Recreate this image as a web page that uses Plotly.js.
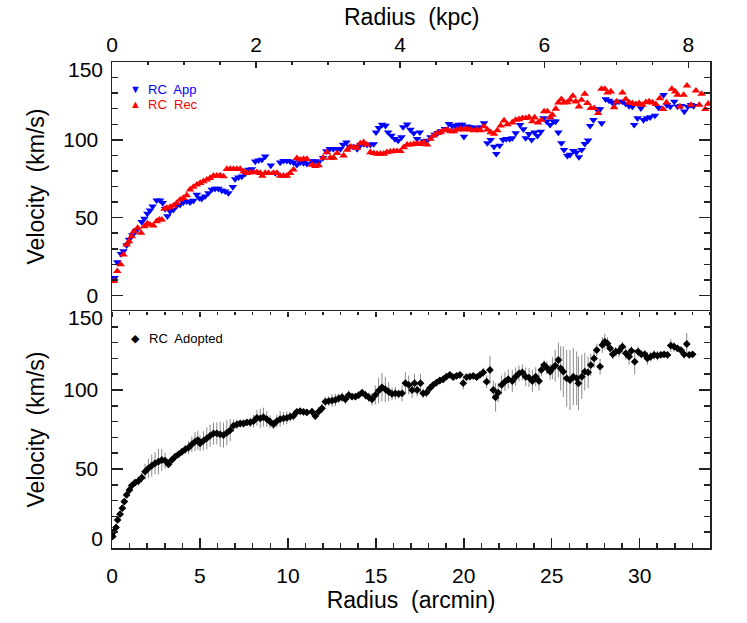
<!DOCTYPE html>
<html><head><meta charset="utf-8">
<script src="https://cdn.plot.ly/plotly-3.0.1.min.js"></script>
<style>html,body{margin:0;padding:0;background:#fff}#chart{width:747px;height:623px}</style>
</head><body><div id="chart"></div>
<script>
// RC App (approaching side) - radius in arcmin, velocity km/s
const appR = [0.15,0.30,0.51,0.65,0.83,0.97,1.16,1.37,1.69,1.84,2.01,2.16,2.31,2.54,2.73,2.88,3.02,3.15,3.30,3.49,3.68,3.87,4.06,4.25,4.44,4.63,4.82,4.97,5.10,5.29,5.48,5.67,5.86,6.05,6.24,6.43,6.62,6.87,7.00,7.19,7.38,7.57,7.76,7.95,8.14,8.33,8.52,8.71,9.03,9.28,9.56,9.75,9.94,10.13,10.32,10.51,10.70,10.89,11.08,
11.37,11.56,11.75,12.00,12.19,12.38,12.58,12.80,12.99,13.14,13.33,13.52,13.71,13.94,14.12,14.31,14.50,14.69,14.88,15.01,15.17,15.36,15.55,15.70,15.89,16.08,16.27,16.46,16.55,16.78,16.97,17.16,17.35,17.50,17.73,17.92,18.11,18.34,18.53,18.72,18.93,19.15,19.34,19.53,19.72,19.91,20.01,20.19,20.38,20.57,20.76,20.95,21.15,21.34,21.53,21.72,21.85,22.04,22.23,22.42,22.61,
22.76,22.95,23.20,23.39,23.52,23.71,23.86,24.03,24.19,24.38,24.53,24.72,24.91,25.10,25.23,25.38,25.55,25.70,25.89,26.04,26.23,26.40,26.55,26.70,26.88,27.07,27.18,27.37,27.56,27.75,27.84,28.07,28.26,28.45,28.64,28.83,29.02,29.21,29.40,29.59,29.69,29.88,30.07,30.22,30.41,30.60,30.87,31.07,31.36,31.55,31.74,31.97,32.16,32.35,32.54,32.73,32.92,33.07];
const appV = [11.3,21.4,26.7,28.4,32.3,35.9,38.7,41.5,47.2,49.4,52.6,54.7,57.3,61.1,61.1,59.4,55.6,50.9,54.1,55.1,57.7,58.3,59.8,60.5,59.8,60.9,64.7,62.6,62.2,63.7,65.8,68.0,68.6,68.6,67.5,66.9,65.8,69.7,74.8,75.9,76.5,78.2,80.8,81.2,86.1,86.8,87.2,89.3,83.5,78.6,85.5,86.5,86.5,86.1,85.5,84.0,85.5,85.1,84.6,
86.3,86.3,85.6,88.4,92.7,94.1,94.1,94.1,94.1,96.9,98.4,95.6,95.6,94.1,96.9,97.3,96.9,96.9,97.3,104.8,107.6,109.7,109.1,104.8,102.7,100.6,99.5,101.7,108.2,109.9,106.5,104.3,100.6,104.8,99.1,99.5,101.7,103.4,104.4,105.5,107.0,110.3,109.1,109.1,109.7,109.7,102.0,108.6,108.2,107.8,107.1,108.2,110.7,97.9,100.0,95.6,91.0,96.3,100.0,100.6,100.6,
101.1,104.3,109.6,106.8,101.1,103.8,100.0,104.7,102.6,105.3,113.9,111.8,109.6,111.8,111.8,104.7,97.9,93.6,89.7,90.4,92.9,91.9,88.9,93.6,97.4,99.6,109.0,112.8,119.7,119.7,110.7,126.1,125.2,123.9,124.1,124.6,124.6,123.1,121.8,121.4,109.6,113.9,120.3,112.8,113.9,114.5,115.6,120.7,128.8,122.4,121.4,124.6,121.4,121.8,118.2,121.4,122.4,121.8];

// RC Rec (receding side)
const recR = [0.11,0.30,0.49,0.65,0.83,0.97,1.12,1.25,1.46,1.65,1.84,2.01,2.16,2.35,2.54,2.69,2.83,2.98,3.11,3.30,3.49,3.68,3.87,4.06,4.25,4.44,4.63,4.82,5.01,5.20,5.39,5.58,5.77,5.96,6.15,6.34,6.53,6.72,6.91,7.10,7.29,7.48,7.67,7.86,8.05,8.24,8.43,8.55,8.71,8.90,9.18,9.37,9.56,9.75,9.94,10.13,10.32,10.51,10.70,10.89,11.08,
11.37,11.56,11.75,12.00,12.22,12.41,12.60,12.80,13.17,13.37,13.56,13.75,13.94,14.12,14.31,14.50,14.69,14.88,15.07,15.26,15.45,15.63,15.82,16.02,16.21,16.40,16.59,16.78,16.97,17.16,17.35,17.54,17.73,17.92,18.11,18.30,18.49,18.68,18.87,19.06,19.25,19.44,19.63,19.82,20.01,20.19,20.38,20.57,20.76,20.95,21.15,21.34,21.53,21.72,21.91,22.10,22.29,22.48,
22.76,22.95,23.14,23.33,23.52,23.71,23.90,24.03,24.23,24.42,24.57,24.76,24.91,25.04,25.23,25.38,25.55,25.70,25.89,26.04,26.20,26.37,26.55,26.69,26.88,27.03,27.22,27.41,27.64,27.83,28.02,28.17,28.36,28.55,28.70,29.02,29.21,29.40,29.59,29.78,29.97,30.16,30.35,30.54,30.73,30.92,31.15,31.34,31.53,31.83,32.02,32.16,32.29,32.50,32.69,32.92,33.20,33.39,33.52,33.73,33.90];
const recV = [9.2,15.6,19.9,26.3,32.7,34.8,38.0,41.2,43.4,40.2,44.4,46.2,45.5,44.9,47.6,48.7,48.7,55.6,56.2,56.8,57.7,59.4,61.5,62.6,64.3,68.0,69.7,71.2,72.2,73.3,74.4,75.4,76.9,76.9,77.1,76.5,81.2,81.2,81.2,81.2,81.2,79.7,78.6,79.0,79.0,79.2,78.6,76.9,78.6,78.6,78.6,78.6,76.9,76.9,76.9,78.6,80.8,88.2,87.2,87.6,87.6,
83.9,83.1,83.5,88.4,92.0,88.4,88.4,91.4,89.9,93.5,95.6,95.2,94.8,97.7,98.4,96.9,92.0,91.4,91.0,91.0,91.0,92.0,92.4,92.7,92.7,92.7,95.2,96.9,96.9,97.3,97.7,97.3,98.4,96.9,100.6,102.7,104.3,104.8,106.0,106.5,105.5,105.5,106.5,107.1,106.5,107.1,106.5,106.0,106.5,106.0,108.6,106.5,104.8,103.8,106.0,109.1,112.4,109.9,
111.1,112.8,113.2,113.9,113.9,114.5,111.8,114.3,111.1,112.8,118.2,118.2,114.5,116.0,119.9,123.9,126.1,123.9,124.1,125.6,128.2,124.6,121.4,125.6,129.5,123.5,120.3,120.3,117.1,132.7,132.7,130.3,131.0,120.9,124.6,130.3,126.1,123.9,123.5,122.9,123.5,122.4,124.1,124.6,123.9,122.9,126.7,119.7,123.9,132.7,131.0,128.8,121.4,128.8,134.8,122.4,131.6,122.4,129.5,119.7,123.1];

// RC Adopted with uncertainties
const adoR = [0.04,0.11,0.23,0.32,0.46,0.59,0.70,0.83,0.99,1.12,1.31,1.50,1.69,1.88,2.07,2.26,2.45,2.64,2.83,3.02,3.21,3.40,3.59,3.78,3.97,4.16,4.35,4.54,4.72,4.88,5.01,5.20,5.39,5.58,5.77,5.96,6.15,6.34,6.53,6.72,6.91,7.10,7.29,7.48,7.67,7.86,8.05,8.24,8.43,8.61,8.80,8.99,9.18,9.37,9.56,9.75,9.94,10.13,10.32,10.51,10.70,10.89,11.08,
11.37,11.56,11.75,11.94,12.13,12.32,12.51,12.70,12.89,13.08,13.27,13.46,13.65,13.84,14.03,14.22,14.41,14.60,14.78,14.97,15.16,15.35,15.54,15.73,15.92,16.11,16.30,16.49,16.68,16.87,17.06,17.20,17.35,17.54,17.69,17.88,18.07,18.26,18.45,18.64,18.83,19.02,19.21,19.40,19.59,19.78,19.97,20.16,20.35,20.54,20.73,20.92,21.11,21.30,21.49,21.68,21.81,21.96,22.15,22.34,22.53,
22.76,22.95,23.14,23.33,23.52,23.71,23.90,24.09,24.28,24.41,24.57,24.72,24.91,25.04,25.20,25.38,25.51,25.66,25.85,26.04,26.23,26.42,26.52,26.71,26.88,27.07,27.22,27.41,27.56,27.75,27.88,28.02,28.17,28.32,28.47,28.64,28.83,29.02,29.21,29.40,29.53,29.72,29.91,30.10,30.29,30.44,30.63,30.82,31.01,31.20,31.39,31.58,31.77,31.96,32.15,32.34,32.53,32.68,32.82,33.01];
const adoV = [7.3,10.4,13.0,17.8,21.4,25.2,29.4,33.6,36.7,39.5,41.4,42.4,44.5,48.3,50.4,52.1,53.6,54.6,55.7,55.3,52.9,55.7,57.8,59.3,60.9,62.4,63.5,65.6,67.3,68.3,66.2,67.9,69.4,71.1,72.5,72.5,71.9,71.5,72.9,74.6,77.4,78.2,78.8,78.8,79.5,79.5,80.3,82.4,82.0,82.8,81.6,79.9,78.2,80.3,81.6,82.0,82.4,83.1,83.7,86.2,86.6,86.2,85.8,
86.3,83.5,86.3,88.4,92.6,93.0,93.3,93.7,94.7,95.4,94.1,96.8,95.8,95.8,96.8,98.3,96.8,95.4,94.1,96.8,99.6,101.7,100.4,98.9,97.5,97.9,97.5,97.9,104.3,103.2,100.0,104.3,100.0,104.3,97.9,98.3,101.1,103.2,104.7,106.0,106.8,108.5,109.6,108.1,108.9,109.6,104.3,108.1,108.5,108.9,108.1,109.6,111.1,105.3,112.7,100.0,95.4,98.3,103.2,105.3,106.8,
105.7,108.4,110.5,111.2,108.4,107.8,105.7,108.4,105.7,112.7,115.8,114.1,111.6,113.7,115.4,119.0,113.7,111.6,107.4,106.3,108.4,107.4,104.2,108.4,111.6,111.2,115.8,120.0,125.3,114.8,128.5,130.6,129.5,126.4,122.6,124.3,124.7,127.4,123.2,121.1,124.7,117.9,124.3,122.6,122.6,120.0,121.1,122.2,121.7,122.2,122.6,122.2,128.1,127.4,126.4,125.3,122.6,129.1,122.2,122.6];
const adoE = [1,1,1,1,1,1,1,1,1.5,2,2,3,3,5,6,7,7,8,7,5,2,2,2,2,2,3,4,5,6,6,5,6,7,7,7,7,8,8,8,7,4,3,2,2,2,3,4,5,6,6,5,4,3,4,5,4,4,3,3,2,2,2,2,
2,2,3,3,3,3,4,4,3,3,3,3,2,2,2,2,3,3,4,6,8,9,8,6,4,4,3,5,7,6,5,6,4,6,3,3,2,2,2,2,2,2,2,2,2,2,4,2,2,2,2,2,3,4,9,6,9,6,6,6,6,
7,6,5,5,6,6,7,6,6,4,3,4,5,7,10,11,14,16,18,19,18,17,17,14,12,10,7,6,4,5,5,5,4,3,3,3,4,3,4,5,3,8,3,2,3,4,3,3,3,2,2,2,4,3,2,2,3,7,2,2];

const velTicks = [0, 50, 100, 150];
const kpcTicks = [0, 2, 4, 6, 8];
const arcminPerKpc = 4.096;
const xMaxArcmin = 34;

const axColor = '#222';
const FAM = 'Liberation Sans, Arial, sans-serif';
const tickFont = {family: FAM, size: 21, color: '#000'};
const titleFont = {family: FAM, size: 23, color: '#000'};

const traces = [
  {x: appR, y: appV, xaxis: 'x2', yaxis: 'y2', type: 'scatter', mode: 'markers', name: 'RC App',
   marker: {symbol: 'triangle-down', color: '#0000ff', size: 7.5}},
  {x: recR, y: recV, xaxis: 'x2', yaxis: 'y2', type: 'scatter', mode: 'markers', name: 'RC Rec',
   marker: {symbol: 'triangle-up', color: '#ff0000', size: 7.5}},
  {x: adoR, y: adoV, xaxis: 'x', yaxis: 'y', type: 'scatter', mode: 'markers', name: 'RC Adopted',
   error_y: {type: 'data', array: adoE, visible: true, color: '#8a8a8a', thickness: 1, width: 0},
   marker: {symbol: 'diamond', color: '#000', size: 6}},
  // empty traces so that the overlay axes (kpc scale, end labels) are drawn
  {x: [], y: [], xaxis: 'x3', yaxis: 'y2', type: 'scatter', mode: 'markers', hoverinfo: 'skip'},
  {x: [], y: [], xaxis: 'x', yaxis: 'y3', type: 'scatter', mode: 'markers', hoverinfo: 'skip'},
  {x: [], y: [], xaxis: 'x', yaxis: 'y4', type: 'scatter', mode: 'markers', hoverinfo: 'skip'},
  {x: [], y: [], xaxis: 'x2', yaxis: 'y5', type: 'scatter', mode: 'markers', hoverinfo: 'skip'}
];

const split = 237/486;
const common = {showgrid: false, zeroline: false, linecolor: axColor, linewidth: 1.5, tickcolor: axColor, tickwidth: 1.5};
const minorIn = (d, len) => ({dtick: d, ticks: 'inside', ticklen: len, tickcolor: axColor, tickwidth: 1.5});
const endLabel = (dom, rng, anchorX, overlay, val, shift) => Object.assign({}, common, {
  domain: dom, range: rng, anchor: anchorX, overlaying: overlay, side: 'left',
  showline: false, ticks: '', tickmode: 'array', tickvals: [val], ticktext: [String(val)],
  tickfont: tickFont, ticklabelstandoff: 8, ticklabelshift: shift
});

const layout = {
  width: 747, height: 623,
  margin: {l: 112, r: 37, t: 62, b: 75},
  paper_bgcolor: '#fff', plot_bgcolor: '#fff',
  showlegend: false,
  font: {family: FAM, color: '#000'},
  xaxis: Object.assign({}, common, {
    domain: [0, 1], range: [0, xMaxArcmin], anchor: 'y', side: 'bottom',
    showline: true, mirror: true, ticks: 'inside', ticklen: 10, dtick: 5, tick0: 0,
    minor: minorIn(1, 5), tickfont: tickFont, ticklabelstandoff: 8,
    title: {text: 'Radius\u00A0 (arcmin)', font: titleFont, standoff: 3}
  }),
  xaxis2: Object.assign({}, common, {
    domain: [0, 1], range: [0, xMaxArcmin], anchor: 'y2', side: 'bottom',
    showline: false, ticks: 'outside', ticklen: 5, dtick: 5, tick0: 0,
    minor: {dtick: 1, ticks: 'outside', ticklen: 3, tickcolor: axColor, tickwidth: 1.5},
    showticklabels: false
  }),
  xaxis3: Object.assign({}, common, {
    domain: [0, 1], range: [0, xMaxArcmin/arcminPerKpc], anchor: 'y2', overlaying: 'x2', side: 'top',
    showline: true, ticks: 'inside', ticklen: 6, tickmode: 'array', tickvals: kpcTicks,
    minor: minorIn(0.5, 3), tickfont: tickFont, ticklabelstandoff: 0
  }),
  yaxis: Object.assign({}, common, {
    domain: [0, split], range: [0, 150], anchor: 'x',
    showline: true, mirror: 'ticks', ticks: 'inside', ticklen: 11,
    tickmode: 'array', tickvals: velTicks, ticktext: ['', '50', '100', ''],
    minor: minorIn(10, 6), tickfont: tickFont, ticklabelstandoff: 8,
    title: {text: 'Velocity\u00A0 (km/s)', font: titleFont, standoff: 12}
  }),
  yaxis2: Object.assign({}, common, {
    domain: [split, 1], range: [-10, 150], anchor: 'x2',
    showline: true, mirror: 'ticks', ticks: 'inside', ticklen: 11,
    tickmode: 'array', tickvals: velTicks, ticktext: ['0', '50', '100', ''],
    minor: minorIn(10, 6), tickfont: tickFont, ticklabelstandoff: 8,
    title: {text: 'Velocity\u00A0 (km/s)', font: titleFont, standoff: 12}
  }),
  yaxis3: endLabel([0, split], [0, 150], 'x', 'y', 150, 7),
  yaxis4: endLabel([0, split], [0, 150], 'x', 'y', 0, -9),
  yaxis5: endLabel([split, 1], [-10, 150], 'x2', 'y2', 150, 8),
  annotations: [
    {xref: 'paper', yref: 'paper', x: 0.5, y: (548-17)/486, text: 'Radius\u00A0 (kpc)', showarrow: false,
     font: titleFont, xanchor: 'center', yanchor: 'middle'},
    {xref: 'paper', yref: 'paper', x: 0.0401, y: (548-89)/486, text: '\u25BC', showarrow: false,
     font: {size: 11, color: '#0000ff'}, xanchor: 'center', yanchor: 'middle'},
    {xref: 'paper', yref: 'paper', x: 0.0569, y: (548-89)/486, text: 'RC\u00A0 App', showarrow: false,
     font: {size: 13, color: '#0000ff'}, xanchor: 'left', yanchor: 'middle'},
    {xref: 'paper', yref: 'paper', x: 0.0401, y: (548-104)/486, text: '\u25B2', showarrow: false,
     font: {size: 11, color: '#ff0000'}, xanchor: 'center', yanchor: 'middle'},
    {xref: 'paper', yref: 'paper', x: 0.0569, y: (548-104)/486, text: 'RC\u00A0 Rec', showarrow: false,
     font: {size: 13, color: '#ff0000'}, xanchor: 'left', yanchor: 'middle'},
    {xref: 'paper', yref: 'paper', x: 0.0401, y: (548-338)/486, text: '\u25C6', showarrow: false,
     font: {size: 11, color: '#000'}, xanchor: 'center', yanchor: 'middle'},
    {xref: 'paper', yref: 'paper', x: 0.0585, y: (548-338)/486, text: 'RC\u00A0 Adopted', showarrow: false,
     font: {size: 13, color: '#000'}, xanchor: 'left', yanchor: 'middle'}
  ]
};

Plotly.newPlot('chart', traces, layout, {displayModeBar: false, staticPlot: true});
</script>
</body></html>
